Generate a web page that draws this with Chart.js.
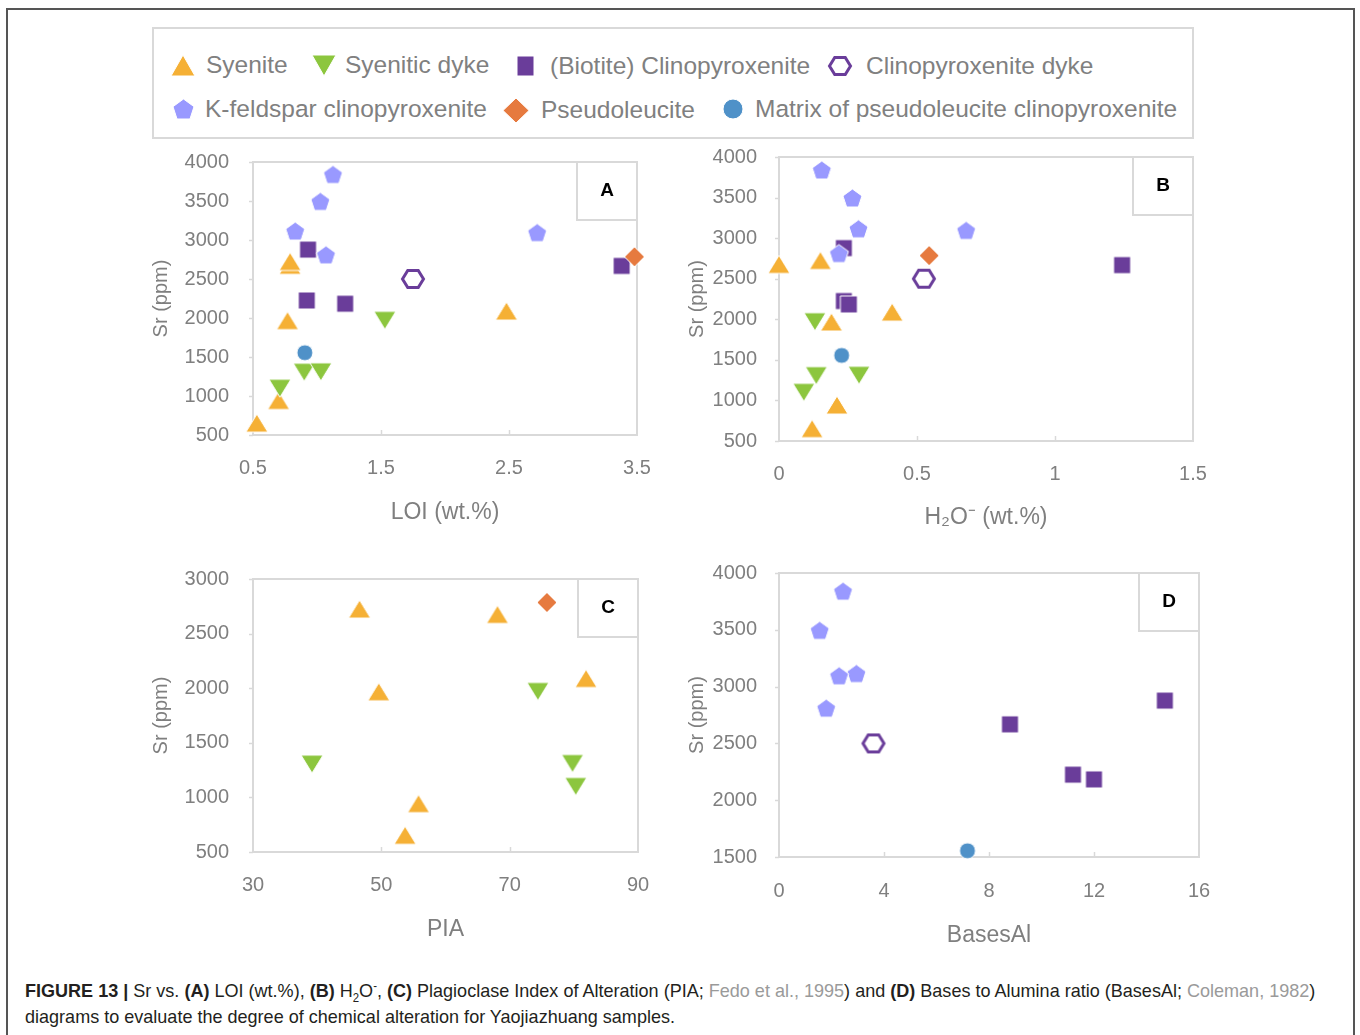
<!DOCTYPE html>
<html>
<head>
<meta charset="utf-8">
<script src="https://cdn.jsdelivr.net/npm/chart.js@4.4.1/dist/chart.umd.min.js"></script>
<style>
  body { margin: 0; background: #fff; width: 1360px; height: 1035px; overflow: hidden; position: relative;
         font-family: "Liberation Sans", Arial, sans-serif; }
  #outer { position: absolute; left: 6px; top: 8px; width: 1349px; height: 1100px; border: 2px solid #555; box-sizing: border-box; }
  #legendBox { position: absolute; left: 152px; top: 27px; width: 1042px; height: 112px; border: 2px solid #d9d9d9; box-sizing: border-box; }
  .lg-icon { position: absolute; }
  .lg-text { position: absolute; font-size: 24.5px; line-height: 28px; color: #808080; white-space: nowrap; }
  canvas.panel { position: absolute; }
  .cap { position: absolute; left: 25px; font-family: "Liberation Sans", Arial, sans-serif; font-size: 19px; line-height: 26px;
         color: #231f20; white-space: nowrap; transform-origin: 0 50%; }
  .cap b { font-weight: bold; }
  .cap .ref { color: #9a9a9a; }
  .cap sub, .cap sup { font-size: 12px; line-height: 0; }
</style>
</head>
<body>
<div id="outer"></div>
<div id="legendBox"></div>
<div id="legend"></div>

<canvas id="chartA" class="panel" width="520" height="390" style="left:140px;top:145px"></canvas>
<canvas id="chartB" class="panel" width="550" height="400" style="left:668px;top:140px"></canvas>
<canvas id="chartC" class="panel" width="520" height="400" style="left:140px;top:560px"></canvas>
<canvas id="chartD" class="panel" width="550" height="405" style="left:668px;top:555px"></canvas>

<div id="cap1" class="cap" style="top:978px"><b>FIGURE 13 |</b> Sr vs. <b>(A)</b> LOI (wt.%), <b>(B)</b> H<sub>2</sub>O<sup>-</sup>, <b>(C)</b> Plagioclase Index of Alteration (PIA; <span class="ref">Fedo et al., 1995</span>) and <b>(D)</b> Bases to Alumina ratio (BasesAl; <span class="ref">Coleman, 1982</span>)</div>
<div id="cap2" class="cap" style="top:1004px">diagrams to evaluate the degree of chemical alteration for Yaojiazhuang samples.</div>

<script>
// ---- data ----
// Syenite
const syeniteSr  = [653, 943, 1967, 2676, 2725, 2089];
const syeniteLoi = [0.53, 0.70, 0.77, 0.79, 0.79, 2.48];
const syeniteH2o = [0.12, 0.21, 0.19, 0.00, 0.15, 0.41];
const syenitePia = [53.7, 55.8, 49.6, 68.1, 46.6, 81.9];
// Syenitic dyke
const dykeSr  = [1100, 1305, 1310, 1970];
const dykeLoi = [0.71, 0.90, 1.03, 1.53];
const dykeH2o = [0.09, 0.135, 0.29, 0.13];
const dykePia = [80.3, 39.2, 79.8, 74.4];
// (Biotite) Clinopyroxenite
const cpxSr      = [2877, 2225, 2183, 2668];
const cpxLoi     = [0.93, 0.92, 1.22, 3.38];
const cpxH2o     = [0.235, 0.235, 0.253, 1.243];
const cpxBasesAl = [14.7, 11.2, 12.0, 8.8];
// Clinopyroxenite dyke
const cpxDykeSr      = [2500];
const cpxDykeLoi     = [1.75];
const cpxDykeH2o     = [0.525];
const cpxDykeBasesAl = [3.6];
// K-feldspar clinopyroxenite
const kfsSr      = [3840, 3495, 3115, 2810, 3095];
const kfsLoi     = [1.125, 1.026, 0.83, 1.07, 2.72];
const kfsH2o     = [0.155, 0.266, 0.288, 0.217, 0.678];
const kfsBasesAl = [2.44, 1.55, 2.95, 1.80, 2.29];
// Pseudoleucite
const pslSr  = [2785];
const pslLoi = [3.48];
const pslH2o = [0.544];
const pslPia = [75.8];
// Matrix of pseudoleucite clinopyroxenite
const matrixSr      = [1555];
const matrixLoi     = [0.905];
const matrixH2o     = [0.227];
const matrixBasesAl = [7.18];

// axis ticks
const loiTicks     = [0.5, 1.5, 2.5, 3.5];
const h2oTicks     = [0, 0.5, 1, 1.5];
const piaTicks     = [30, 50, 70, 90];
const basesAlTicks = [0, 4, 8, 12, 16];
const srTicksAB    = [500, 1000, 1500, 2000, 2500, 3000, 3500, 4000];
const srTicksC     = [500, 1000, 1500, 2000, 2500, 3000];
const srTicksD     = [1500, 2000, 2500, 3000, 3500, 4000];

const seriesNames = ['Syenite', 'Syenitic dyke', '(Biotite) Clinopyroxenite', 'Clinopyroxenite dyke',
  'K-feldspar clinopyroxenite', 'Pseudoleucite', 'Matrix of pseudoleucite clinopyroxenite'];

const textGray = '#7f7f7f';
const lineGray = '#d9d9d9';
const fontFam = '"Liberation Sans", Arial, sans-serif';

// marker shapes, in a unit box centred on 0,0
const shapes = {
  triUp:    [[0, -0.5], [0.5, 0.5], [-0.5, 0.5]],
  triDown:  [[-0.5, -0.5], [0.5, -0.5], [0, 0.5]],
  square:   [[-0.5, -0.5], [0.5, -0.5], [0.5, 0.5], [-0.5, 0.5]],
  diamond:  [[0, -0.5], [0.5, 0], [0, 0.5], [-0.5, 0]],
  pentagon: [[0, -0.5], [0.5, -0.118], [0.309, 0.5], [-0.309, 0.5], [-0.5, -0.118]],
  hexagon:  [[-0.5, 0], [-0.25, -0.5], [0.25, -0.5], [0.5, 0], [0.25, 0.5], [-0.25, 0.5]]
};

function shapePath(ctx, kind, cx, cy, w, h) {
  ctx.beginPath();
  if (kind === 'circle') {
    ctx.ellipse(cx, cy, w / 2, h / 2, 0, 0, Math.PI * 2);
  } else {
    shapes[kind].forEach((p, i) => {
      const px = cx + p[0] * w, py = cy + p[1] * h;
      if (i === 0) ctx.moveTo(px, py); else ctx.lineTo(px, py);
    });
    ctx.closePath();
  }
}

function markerImage(kind, w, h, color, hollow) {
  const c = document.createElement('canvas');
  c.width = Math.ceil(w) + 4;
  c.height = Math.ceil(h) + 4;
  const ctx = c.getContext('2d');
  if (hollow) {
    shapePath(ctx, kind, c.width / 2, c.height / 2, w - 3, h - 3);
    ctx.fillStyle = '#fff';
    ctx.fill();
    ctx.lineWidth = 3;
    ctx.strokeStyle = color;
    ctx.stroke();
  } else {
    shapePath(ctx, kind, c.width / 2, c.height / 2, w, h);
    ctx.fillStyle = color;
    ctx.fill();
    ctx.lineWidth = 1;
    ctx.strokeStyle = '#fff';
    ctx.stroke();
  }
  return c;
}

const style = [
  { kind: 'triUp',    color: '#f5b035', w: 22, h: 18, lw: 24, lh: 21 },
  { kind: 'triDown',  color: '#8cc63e', w: 22, h: 18, lw: 24, lh: 21 },
  { kind: 'square',   color: '#6a3d9a', w: 17, h: 17, lw: 17, lh: 20 },
  { kind: 'hexagon',  color: '#6a3d9a', w: 24, h: 20, lw: 24, lh: 20, hollow: true },
  { kind: 'pentagon', color: '#9999ff', w: 19, h: 18, lw: 21, lh: 20 },
  { kind: 'diamond',  color: '#e67a3f', w: 20, h: 20, lw: 26, lh: 25 },
  { kind: 'circle',   color: '#4f91c8', w: 16, h: 16, lw: 20, lh: 20 }
];
const markers = style.map(s => markerImage(s.kind, s.w, s.h, s.color, s.hollow));

// ---- legend ----
const legendPos = [
  { ix: 183, iy: 65, tx: 206 },
  { ix: 324, iy: 65, tx: 345 },
  { ix: 525, iy: 66, tx: 550 },
  { ix: 840, iy: 66, tx: 866 },
  { ix: 183, iy: 109, tx: 205 },
  { ix: 516, iy: 110, tx: 541 },
  { ix: 733, iy: 109, tx: 755 }
];
const legendDiv = document.getElementById('legend');
legendPos.forEach((p, i) => {
  const s = style[i];
  const icon = markerImage(s.kind, s.lw, s.lh, s.color, s.hollow);
  icon.className = 'lg-icon';
  icon.style.left = (p.ix - icon.width / 2) + 'px';
  icon.style.top = (p.iy - icon.height / 2) + 'px';
  legendDiv.appendChild(icon);
  const t = document.createElement('div');
  t.className = 'lg-text';
  t.textContent = seriesNames[i];
  t.style.left = p.tx + 'px';
  t.style.top = (p.iy - 14) + 'px';
  legendDiv.appendChild(t);
});

// caption is set in a condensed face in the figure: squeeze to the same line lengths
const cap1 = document.getElementById('cap1');
const cap2 = document.getElementById('cap2');
const squeeze = 1290 / cap1.offsetWidth;
cap1.style.transform = 'scaleX(' + squeeze + ')';
cap2.style.transform = 'scaleX(' + squeeze + ')';

// ---- charts ----
const panelDecor = {
  id: 'panelDecor',
  beforeDatasetsDraw(chart, args, opts) {
    const { ctx, chartArea: a } = chart;
    const xs = chart.scales.x, ys = chart.scales.y;
    ctx.save();
    ctx.strokeStyle = lineGray;
    ctx.lineWidth = 2;
    ctx.strokeRect(a.left, a.top, a.right - a.left, a.bottom - a.top);
    ctx.lineWidth = 1.5;
    // x tick marks point into the plot
    xs.ticks.forEach((t, i) => {
      if (i === 0 || i === xs.ticks.length - 1) return;
      const px = Math.round(xs.getPixelForValue(t.value)) + 0.5;
      ctx.beginPath();
      ctx.moveTo(px, a.bottom);
      ctx.lineTo(px, a.bottom - 5);
      ctx.stroke();
    });
    // y tick marks point out
    ys.ticks.forEach(t => {
      const py = Math.round(ys.getPixelForValue(t.value)) + 0.5;
      ctx.beginPath();
      ctx.moveTo(a.left, py);
      ctx.lineTo(a.left - 4, py);
      ctx.stroke();
    });
    // panel letter box
    ctx.lineWidth = 2;
    ctx.fillStyle = '#fff';
    ctx.fillRect(a.right - 60, a.top, 60, 58);
    ctx.strokeRect(a.right - 60, a.top, 60, 58);
    ctx.fillStyle = '#000';
    ctx.font = 'bold 19px ' + fontFam;
    ctx.textAlign = 'center';
    ctx.textBaseline = 'middle';
    ctx.fillText(opts.letter, a.right - 30, a.top + 29);
    ctx.restore();
  }
};

function points(xs, ys) {
  return xs.map((x, i) => ({ x: x, y: ys[i] }));
}

function dataset(idx, xs, ys) {
  return {
    label: seriesNames[idx],
    data: points(xs, ys),
    pointStyle: markers[idx],
    pointRadius: 10,
    clip: false,
    order: 10 - idx
  };
}

// tick padding would also pad the chart area, so the label gaps are made with
// invisible tick marks instead (tickLength) and ticks.padding stays 0
function makePanel(id, p) {
  new Chart(document.getElementById(id), {
    type: 'scatter',
    data: { datasets: p.datasets },
    plugins: [panelDecor],
    options: {
      responsive: false,
      animation: false,
      layout: { padding: { top: p.padTop, right: p.padRight, left: 0, bottom: 0 } },
      plugins: {
        legend: { display: false },
        tooltip: { enabled: false },
        panelDecor: { letter: p.letter }
      },
      scales: {
        x: {
          type: 'linear',
          min: p.xTicks[0],
          max: p.xTicks[p.xTicks.length - 1],
          afterBuildTicks: s => { s.ticks = p.xTicks.map(v => ({ value: v })); },
          afterFit: s => { s.height = p.xHeight; },
          ticks: { color: textGray, font: { family: fontFam, size: 20 }, padding: 0, maxRotation: 0,
                   callback: v => String(v) },
          grid: { drawOnChartArea: false, drawTicks: true, tickLength: p.xGap, tickColor: 'rgba(0,0,0,0)' },
          border: { display: false },
          title: { display: true, text: p.xTitle, color: textGray, font: { family: fontFam, size: 23 },
                   padding: { top: 0, bottom: p.xTitlePad } }
        },
        y: {
          type: 'linear',
          min: p.yTicks[0],
          max: p.yTicks[p.yTicks.length - 1],
          afterBuildTicks: s => { s.ticks = p.yTicks.map(v => ({ value: v })); },
          afterFit: s => { s.width = p.yWidth; },
          ticks: { color: textGray, font: { family: fontFam, size: 20 }, padding: 0,
                   callback: v => String(v) },
          grid: { drawOnChartArea: false, drawTicks: true, tickLength: p.yGap, tickColor: 'rgba(0,0,0,0)' },
          border: { display: false },
          title: { display: true, text: 'Sr (ppm)', color: textGray, font: { family: fontFam, size: 20 },
                   padding: { top: p.yTitlePad, bottom: 0 } }
        }
      }
    }
  });
}

makePanel('chartA', {
  letter: 'A', xTitle: 'LOI (wt.%)', xTicks: loiTicks, yTicks: srTicksAB,
  padTop: 17, padRight: 23, xHeight: 100, yWidth: 113, xGap: 21, yGap: 24, xTitlePad: 9, yTitlePad: 9,
  datasets: [
    dataset(0, syeniteLoi, syeniteSr),
    dataset(1, dykeLoi, dykeSr),
    dataset(2, cpxLoi, cpxSr),
    dataset(3, cpxDykeLoi, cpxDykeSr),
    dataset(4, kfsLoi, kfsSr),
    dataset(5, pslLoi, pslSr),
    dataset(6, matrixLoi, matrixSr)
  ]
});

makePanel('chartB', {
  letter: 'B', xTitle: 'H\u2082O\u207B (wt.%)', xTicks: h2oTicks, yTicks: srTicksAB,
  padTop: 17, padRight: 25, xHeight: 99, yWidth: 111, xGap: 21, yGap: 22, xTitlePad: 9, yTitlePad: 17,
  datasets: [
    dataset(0, syeniteH2o, syeniteSr),
    dataset(1, dykeH2o, dykeSr),
    dataset(2, cpxH2o, cpxSr),
    dataset(3, cpxDykeH2o, cpxDykeSr),
    dataset(4, kfsH2o, kfsSr),
    dataset(5, pslH2o, pslSr),
    dataset(6, matrixH2o, matrixSr)
  ]
});

makePanel('chartC', {
  letter: 'C', xTitle: 'PIA', xTicks: piaTicks, yTicks: srTicksC,
  padTop: 19, padRight: 22, xHeight: 108, yWidth: 113, xGap: 21, yGap: 24, xTitlePad: 17, yTitlePad: 9,
  datasets: [
    dataset(0, syenitePia, syeniteSr),
    dataset(1, dykePia, dykeSr),
    dataset(5, pslPia, pslSr)
  ]
});

makePanel('chartD', {
  letter: 'D', xTitle: 'BasesAl', xTicks: basesAlTicks, yTicks: srTicksD,
  padTop: 18, padRight: 19, xHeight: 103, yWidth: 111, xGap: 22, yGap: 22, xTitlePad: 11, yTitlePad: 17,
  datasets: [
    dataset(2, cpxBasesAl, cpxSr),
    dataset(3, cpxDykeBasesAl, cpxDykeSr),
    dataset(4, kfsBasesAl, kfsSr),
    dataset(6, matrixBasesAl, matrixSr)
  ]
});
</script>
</body>
</html>
